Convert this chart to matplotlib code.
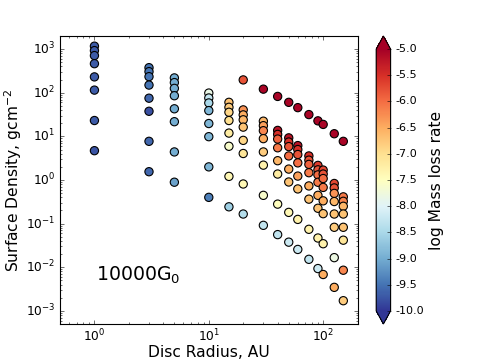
## surface density vs disc radius, coloured by mass loss rate
import matplotlib
matplotlib.use('Agg')
import matplotlib.pyplot as plt
import numpy as np

# ------------------------------------------------------------------------------------------------
## data
# radii of the model grid (AU)
radii = [1, 3, 5, 10, 15, 20, 30, 40, 50, 60, 75, 90, 100, 125, 150]

# surface density (g cm^-2), one row per radius, 8 models each
sigma = [
    [1170, 925, 711, 464, 231, 115, 23.1, 4.7],
    [376, 305, 234, 150, 75, 37.6, 7.7, 1.55],
    [219, 171, 126, 85.5, 42.9, 21.7, 4.4, 0.89],
    [98.4, 75.9, 58.4, 39, 19.7, 9.84, 2.0, 0.40],
    [60.3, 46.4, 35.7, 23.1, 11.9, 5.93, 1.21, 0.243],
    [40.5, 31.1, 24.0, 16.3, 8.1, 4.05, 0.81, 0.166],
    [22.3, 17.6, 13.5, 8.87, 4.40, 2.19, 0.445, 0.0914],
    [13.7, 11.1, 8.68, 5.48, 2.77, 1.37, 0.28, 0.056],
    [9.25, 7.42, 5.83, 3.56, 1.78, 0.90, 0.181, 0.0376],
    [6.15, 4.99, 3.84, 2.47, 1.23, 0.624, 0.125, 0.0256],
    [3.56, 2.85, 2.28, 1.47, 0.731, 0.364, 0.0741, 0.0152],
    [2.16, 1.71, 1.31, 0.887, 0.445, 0.225, 0.0468, 0.00933],
    [1.69, 1.37, 1.08, 0.676, 0.333, 0.169, 0.0346, 0.00682],
    [0.832, 0.658, 0.493, 0.321, 0.166, 0.0824, 0.0166, 0.00346],
    [0.411, 0.325, 0.25, 0.166, 0.0824, 0.0417, 0.00855, 0.00171],
]

# log mass loss rate for the same points
log_mdot = [
    [-9.7, -9.7, -9.7, -9.7, -9.7, -9.7, -9.7, -9.75],
    [-9.5, -9.5, -9.5, -9.5, -9.6, -9.8, -9.6, -9.6],
    [-9.0, -9.0, -9.0, -9.0, -9.0, -9.0, -9.0, -9.1],
    [-7.85, -8.25, -8.5, -8.9, -8.9, -8.9, -8.9, -9.4],
    [-6.7, -6.8, -6.9, -7.0, -7.2, -7.6, -7.4, -8.6],
    [-6.3, -6.5, -6.6, -6.7, -6.9, -7.1, -7.4, -8.4],
    [-6.6, -6.4, -6.2, -6.5, -6.8, -7.3, -7.6, -8.3],
    [-5.2, -5.5, -5.9, -6.1, -6.6, -7.2, -7.5, -8.3],
    [-5.2, -5.5, -5.8, -6.0, -6.5, -6.7, -7.4, -8.2],
    [-5.2, -5.5, -5.8, -6.0, -6.4, -6.7, -7.3, -8.2],
    [-5.5, -5.8, -5.9, -6.1, -6.5, -6.7, -7.3, -8.3],
    [-5.6, -5.8, -6.0, -6.1, -6.5, -6.7, -7.3, -8.2],
    [-5.7, -5.8, -6.0, -6.1, -6.5, -6.7, -7.3, -6.5],
    [-5.7, -5.8, -6.3, -6.6, -6.7, -6.8, -7.8, -6.5],
    [-6.1, -6.2, -6.6, -6.7, -6.7, -7.1, -6.2, -6.8],
]

# extra high density models at the outer radii
outer_radii = [20, 30, 40, 50, 60, 75, 90, 100, 125, 150]
outer_sigma = [197, 121, 82.4, 60.3, 45.6, 31.6, 22.7, 18.8, 11.5, 7.7]
outer_mdot = [-5.8, -5.05, -5.05, -5.05, -5.05, -5.05, -5.05, -5.05, -5.05, -5.05]

# ------------------------------------------------------------------------------------------------
## plot
plt.style.use('classic')
plt.rcParams['mathtext.fontset'] = 'dejavusans'
plt.rcParams['mathtext.default'] = 'regular'

fig, ax = plt.subplots(figsize=(6, 4.5), dpi=80)
fig.patch.set_facecolor('white')

# flatten the grid into x, y, c
x = np.repeat(radii, [len(row) for row in sigma])
y = np.concatenate(sigma)
c = np.concatenate(log_mdot)
x = np.concatenate([x, outer_radii])
y = np.concatenate([y, outer_sigma])
c = np.concatenate([c, outer_mdot])

sc = ax.scatter(x, y, c=c, cmap='RdYlBu_r', vmin=-10, vmax=-5, s=55,
                edgecolors='k', linewidths=1, zorder=3)

ax.set_xscale('log')
ax.set_yscale('log')
ax.set_xlim(0.5, 200)
ax.set_ylim(5e-4, 2e3)
ax.set_xlabel('Disc Radius, AU', fontsize=14, labelpad=1)
ax.set_ylabel('Surface Density, gcm$^{-2}$', fontsize=14, labelpad=2)
ax.tick_params(labelsize=11)
ax.tick_params(axis='x', which='major', pad=3)
ax.tick_params(axis='y', which='major', pad=4)

ax.text(0.12, 0.15, '10000G$_0$', transform=ax.transAxes, fontsize=17, va='baseline')

# colourbar with triangles at both ends
cbar = fig.colorbar(sc, ax=ax, extend='both', ticks=np.arange(-10, -4.9, 0.5), format='%.1f')
cbar.set_label('log Mass loss rate', fontsize=14)
cbar.ax.tick_params(labelsize=10)

fig.savefig('out.png', dpi=80, facecolor='white')
print("saved out.png")
